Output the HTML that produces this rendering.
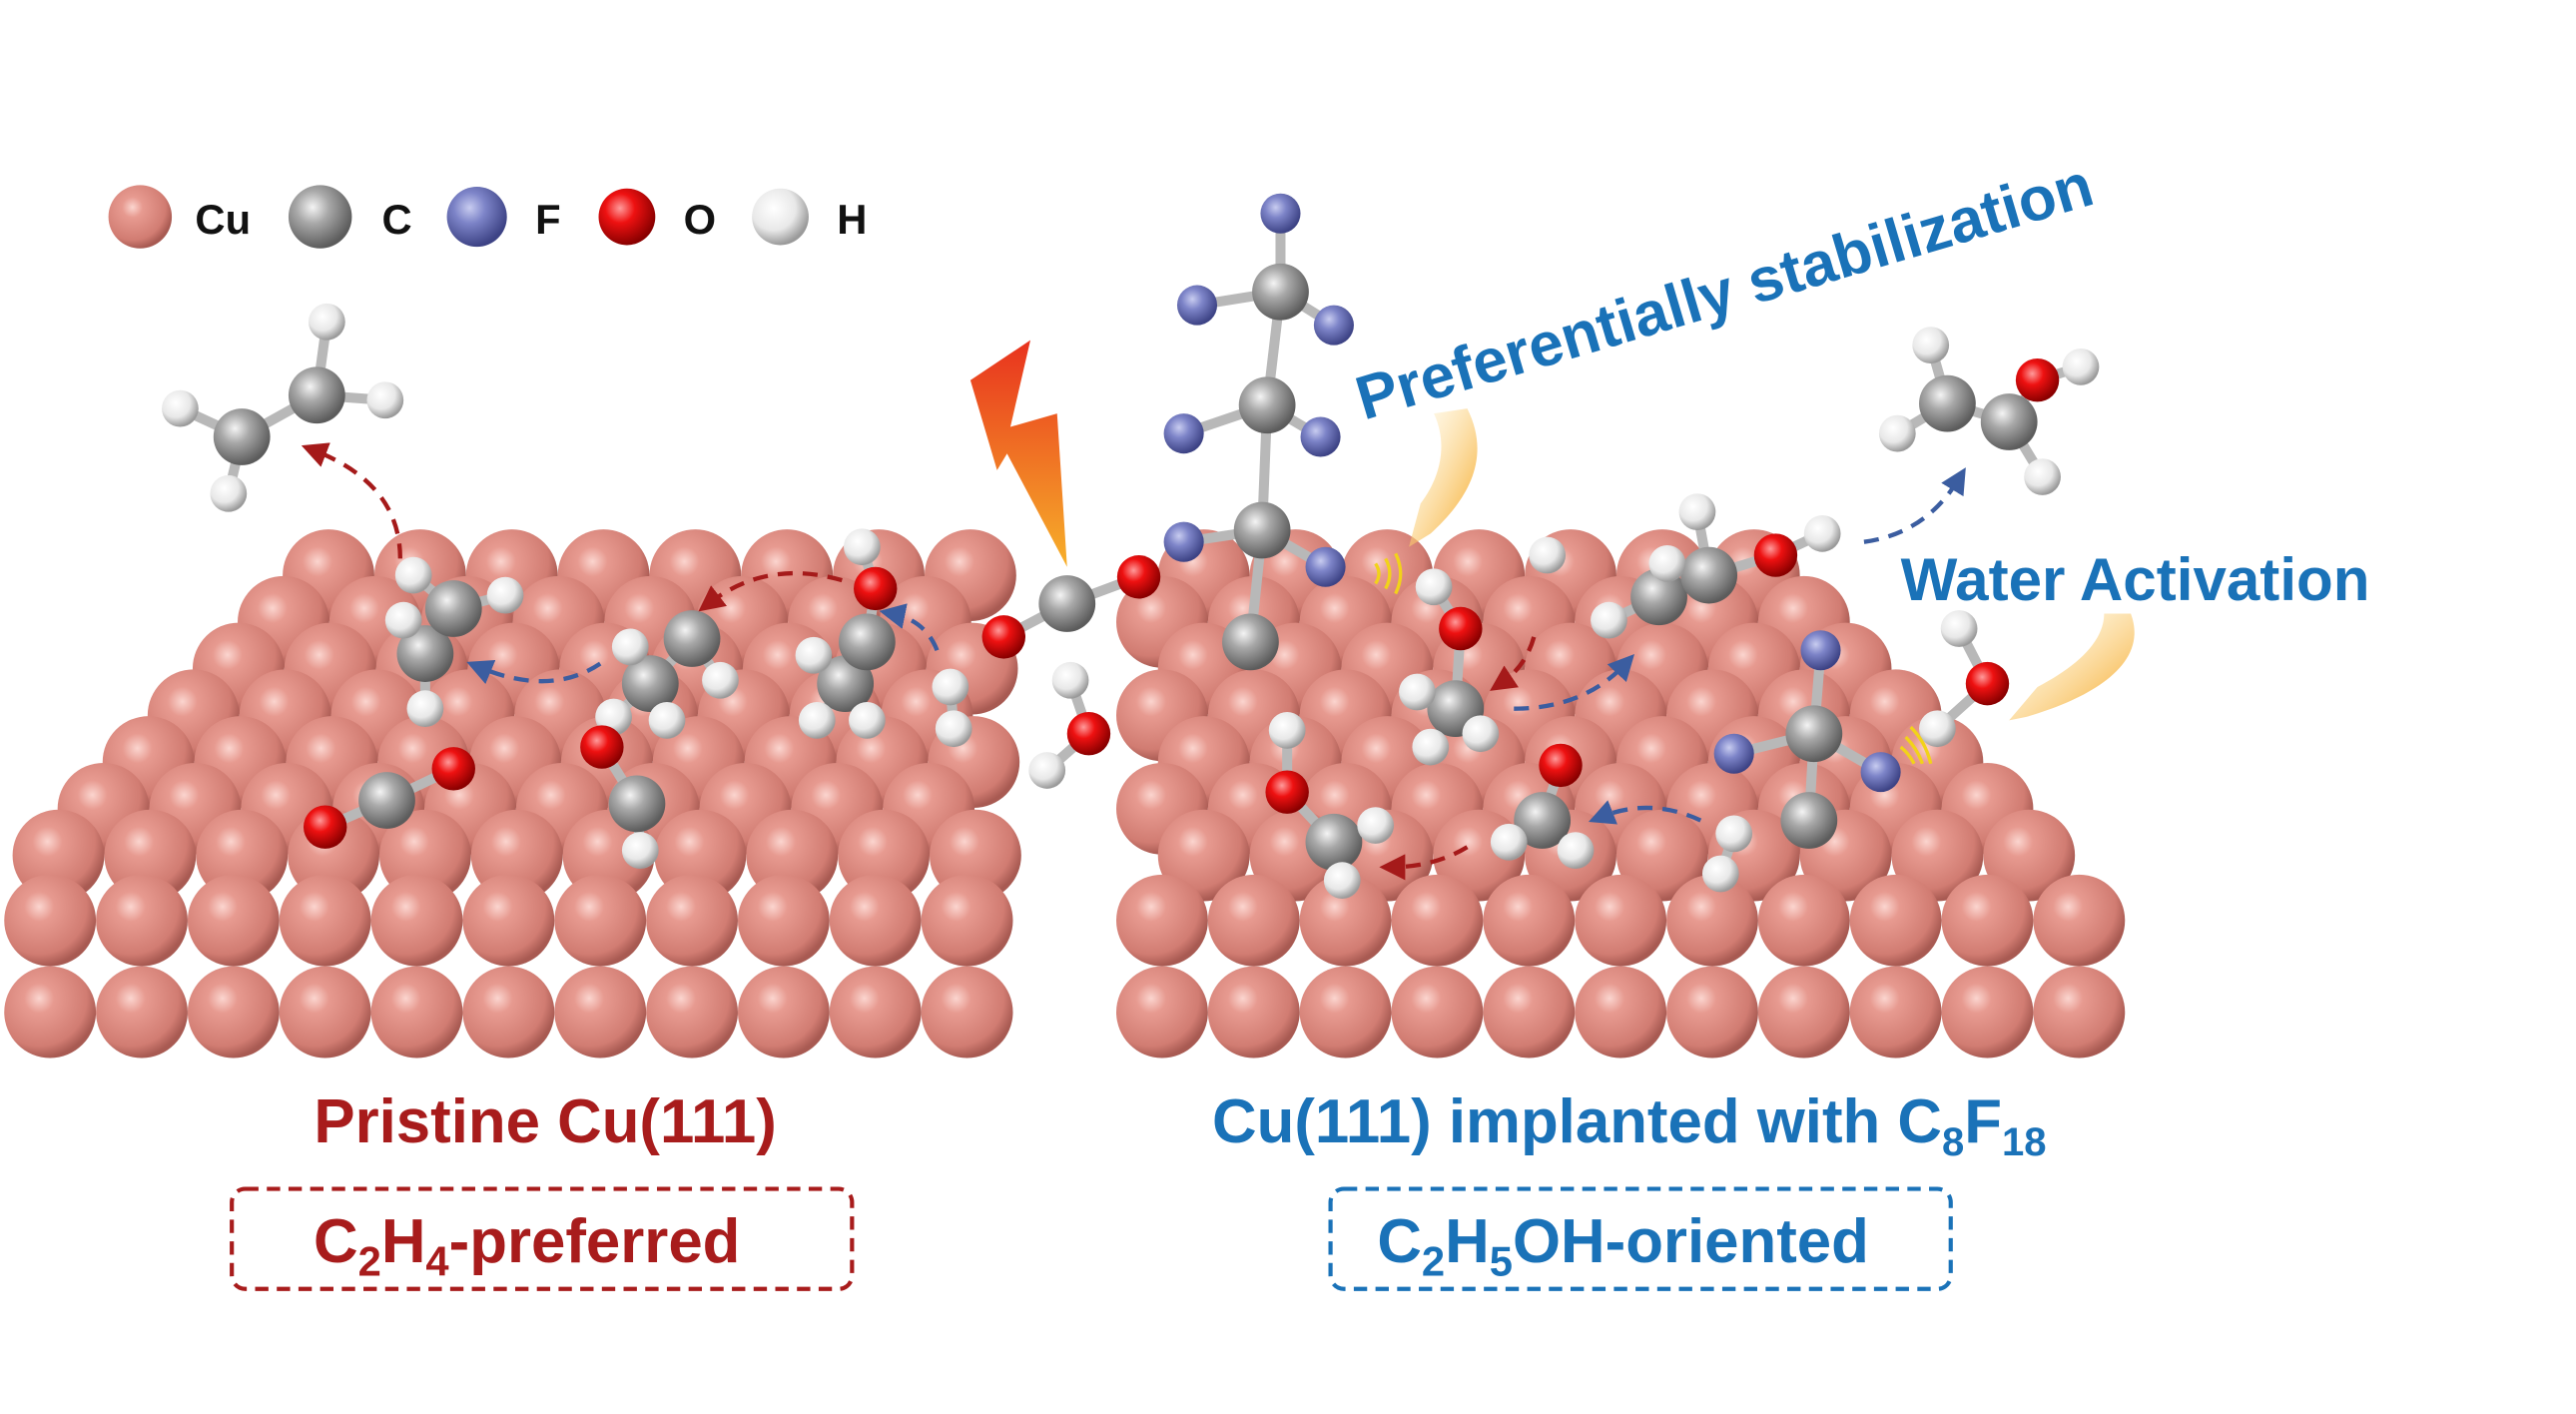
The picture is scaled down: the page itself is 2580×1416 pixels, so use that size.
<!DOCTYPE html>
<html><head><meta charset="utf-8">
<style>
html,body{margin:0;padding:0;background:#fff;}
svg{display:block;}
text{font-family:"Liberation Sans",Arial,sans-serif;font-weight:bold;}
</style></head>
<body>
<svg id="s" width="2580" height="1416" viewBox="0 0 1545 848" xmlns="http://www.w3.org/2000/svg">
<defs>
<radialGradient id="cu" cx="0.38" cy="0.35" r="0.65"><stop offset="0" stop-color="#fbd5cf"/><stop offset="0.25" stop-color="#e79a90"/><stop offset="0.8" stop-color="#d17c72"/><stop offset="1" stop-color="#a85a52"/></radialGradient>
<radialGradient id="gc" cx="0.38" cy="0.35" r="0.65"><stop offset="0" stop-color="#f4f4f4"/><stop offset="0.4" stop-color="#a8a8a8"/><stop offset="1" stop-color="#5c5c5c"/></radialGradient>
<radialGradient id="gf" cx="0.38" cy="0.35" r="0.65"><stop offset="0" stop-color="#c8ccf0"/><stop offset="0.4" stop-color="#7d84c8"/><stop offset="1" stop-color="#3d4385"/></radialGradient>
<radialGradient id="go" cx="0.38" cy="0.35" r="0.65"><stop offset="0" stop-color="#ff9a9a"/><stop offset="0.4" stop-color="#ee1111"/><stop offset="1" stop-color="#8a0000"/></radialGradient>
<radialGradient id="gh" cx="0.38" cy="0.35" r="0.65"><stop offset="0" stop-color="#ffffff"/><stop offset="0.6" stop-color="#e8e8e8"/><stop offset="1" stop-color="#9a9a9a"/></radialGradient>
<linearGradient id="bolt" x1="0" y1="0" x2="0" y2="1"><stop offset="0" stop-color="#e8321e"/><stop offset="1" stop-color="#f7b02a"/></linearGradient>
<linearGradient id="ya" x1="0" y1="0" x2="1" y2="1"><stop offset="0" stop-color="#fff3c8" stop-opacity="0.2"/><stop offset="1" stop-color="#f5a21a"/></linearGradient>
<marker id="mr" markerWidth="6" markerHeight="6" refX="3" refY="3" orient="auto" markerUnits="strokeWidth"><path d="M0,0 L6,3 L0,6 Z" fill="#a51a1a"/></marker>
<marker id="mb" markerWidth="6" markerHeight="6" refX="3" refY="3" orient="auto" markerUnits="strokeWidth"><path d="M0,0 L6,3 L0,6 Z" fill="#3b5da0"/></marker>
</defs>
<g id="slabs"></g>
<g id="mol"></g>
<g fill="none" stroke-width="2.6" stroke-dasharray="9,6">
<path d="M240 335 Q240 290 188 270" stroke="#a51a1a" marker-end="url(#mr)"/>
<path d="M505 348 Q460 335 425 362" stroke="#a51a1a" marker-end="url(#mr)"/>
<path d="M360 398 Q330 418 287 400" stroke="#3b5da0" marker-end="url(#mb)"/>
<path d="M562 390 Q555 372 535 368" stroke="#3b5da0" marker-end="url(#mb)"/>
<path d="M920 382 Q915 400 900 410" stroke="#a51a1a" marker-end="url(#mr)"/>
<path d="M908 425 Q950 425 975 398" stroke="#3b5da0" marker-end="url(#mb)"/>
<path d="M880 508 Q860 520 835 520" stroke="#a51a1a" marker-end="url(#mr)"/>
<path d="M1020 492 Q990 478 960 490" stroke="#3b5da0" marker-end="url(#mb)"/>
<path d="M1118 325 Q1155 320 1175 287" stroke="#3b5da0" marker-end="url(#mb)"/>
</g>
<polygon points="582,228 618,204 606,256 634,248 640,340 604,272 598,282" fill="url(#bolt)"/>
<path d="M880 245 C895 275 880 300 858 320 L845 328 L852 302 C865 285 868 265 860 248 Z" fill="url(#ya)"/>
<path d="M1278 368 C1290 400 1250 420 1215 430 L1205 432 L1222 412 C1245 400 1262 385 1262 368 Z" fill="url(#ya)"/>
<g fill="none" stroke="#f2d21a" stroke-width="2">
<path d="M825 338 q4 6 0 12"/><path d="M831 335 q5 9 0 18"/><path d="M837 332 q6 12 0 24"/>
<path d="M1140 448 q5 4 8 10"/><path d="M1143 442 q7 7 10 16"/><path d="M1146 436 q9 9 12 22"/>
</g>
<g id="leg"></g>
<text x="117" y="140" font-size="25" fill="#111">Cu</text>
<text x="229" y="140" font-size="25" fill="#111">C</text>
<text x="321" y="140" font-size="25" fill="#111">F</text>
<text x="410" y="140" font-size="25" fill="#111">O</text>
<text x="502" y="140" font-size="25" fill="#111">H</text>
<text x="818" y="252" font-size="37" fill="#1a72b8" transform="rotate(-16.5 818 252)">Preferentially stabilization</text>
<text x="1140" y="360" font-size="36" fill="#1a72b8">Water Activation</text>
<text x="327" y="685" font-size="37" fill="#a81c1c" text-anchor="middle">Pristine Cu(111)</text>
<text x="727" y="685" font-size="37" fill="#1a72b8">Cu(111) implanted with C<tspan font-size="24" dy="8">8</tspan><tspan dy="-8">F</tspan><tspan font-size="24" dy="8">18</tspan></text>
<rect x="139" y="713" width="372" height="60" rx="8" fill="none" stroke="#a81c1c" stroke-width="2.5" stroke-dasharray="8,5"/>
<rect x="798" y="713" width="372" height="60" rx="8" fill="none" stroke="#1a72b8" stroke-width="2.5" stroke-dasharray="8,5"/>
<text x="188" y="757" font-size="37" fill="#a81c1c">C<tspan font-size="25" dy="8">2</tspan><tspan dy="-8">H</tspan><tspan font-size="25" dy="8">4</tspan><tspan dy="-8">-preferred</tspan></text>
<text x="826" y="757" font-size="37" fill="#1a72b8">C<tspan font-size="25" dy="8">2</tspan><tspan dy="-8">H</tspan><tspan font-size="25" dy="8">5</tspan><tspan dy="-8">OH-oriented</tspan></text>
</svg>
<script>
var NS="http://www.w3.org/2000/svg";
function el(p,t,a){var e=document.createElementNS(NS,t);for(var k in a)e.setAttribute(k,a[k]);p.appendChild(e);return e;}
var S=document.getElementById('slabs');
var R=27.5;
var ys=[345,373,401,429,457,485,513];
for(var i=0;i<7;i++){var x0=197-27*i;for(var x=x0;x<=592;x+=55)el(S,'circle',{cx:x,cy:ys[i],r:R,fill:'url(#cu)'});}
[552,607].forEach(function(y){for(var x=30;x<=592;x+=55)el(S,'circle',{cx:x,cy:y,r:R,fill:'url(#cu)'});});
for(var i=0;i<7;i++){var x0=(i%2==0)?722:697;var xe=1075+28*i;for(var x=x0;x<=xe;x+=55)el(S,'circle',{cx:x,cy:ys[i],r:R,fill:'url(#cu)'});}
[552,607].forEach(function(y){for(var x=697;x<=1250;x+=55)el(S,'circle',{cx:x,cy:y,r:R,fill:'url(#cu)'});});
var M=document.getElementById('mol');
var T={C:['url(#gc)',17],F:['url(#gf)',12],O:['url(#go)',13],H:['url(#gh)',11]};
function b(x1,y1,x2,y2){el(M,'line',{x1:x1,y1:y1,x2:x2,y2:y2,stroke:'#b8b8b8','stroke-width':6,'stroke-linecap':'round'});}
function a(x,y,t,r){el(M,'circle',{cx:x,cy:y,r:r||T[t][1],fill:T[t][0]});}
function mol(atoms,bonds){bonds.forEach(function(q){b(atoms[q[0]][0],atoms[q[0]][1],atoms[q[1]][0],atoms[q[1]][1]);});atoms.forEach(function(p){a(p[0],p[1],p[2]);});}
var L=document.getElementById('leg');
[[84,'cu',19],[192,'gc',19],[286,'gf',18],[376,'go',17],[468,'gh',17]].forEach(function(q){el(L,'circle',{cx:q[0],cy:130,r:q[2],fill:'url(#'+q[1]+')'});});
mol([[145,262,'C'],[190,237,'C'],[108,245,'H'],[137,296,'H'],[196,193,'H'],[231,240,'H']],[[0,1],[0,2],[0,3],[1,4],[1,5]]);
mol([[255,392,'C'],[272,365,'C'],[248,345,'H'],[303,357,'H'],[242,372,'H'],[255,425,'H']],[[0,1],[1,2],[1,3],[0,4],[0,5]]);
mol([[390,410,'C'],[415,383,'C'],[378,388,'H'],[368,430,'H'],[400,432,'H'],[432,408,'H']],[[0,1],[0,2],[0,3],[0,4],[1,5]]);
mol([[507,410,'C'],[520,385,'C'],[525,353,'O'],[517,328,'H'],[488,393,'H'],[490,432,'H'],[520,432,'H']],[[0,1],[1,2],[2,3],[0,4],[0,5],[0,6]]);
mol([[570,412,'H'],[572,437,'H']],[[0,1]]);
mol([[195,496,'O'],[232,480,'C'],[272,461,'O']],[[0,1],[1,2]]);
mol([[382,482,'C'],[361,448,'O'],[384,510,'H']],[[0,1],[0,2]]);
mol([[602,382,'O'],[640,362,'C'],[683,346,'O']],[[0,1],[1,2]]);
mol([[653,440,'O'],[642,408,'H'],[628,462,'H']],[[0,1],[0,2]]);
mol([[768,175,'C'],[760,243,'C'],[757,318,'C'],[750,385,'C'],[768,128,'F'],[718,183,'F'],[800,195,'F'],[710,260,'F'],[792,262,'F'],[710,325,'F'],[795,340,'F']],[[0,1],[1,2],[2,3],[0,4],[0,5],[0,6],[1,7],[1,8],[2,9],[2,10]]);
mol([[873,425,'C'],[876,377,'O'],[860,352,'H'],[850,415,'H'],[858,448,'H'],[888,440,'H'],[928,333,'H']],[[0,1],[1,2],[0,3],[0,4],[0,5]]);
mol([[995,358,'C'],[1025,345,'C'],[1065,333,'O'],[1093,320,'H'],[1018,307,'H'],[965,372,'H'],[1000,338,'H']],[[0,1],[1,2],[2,3],[1,4],[0,5],[0,6]]);
mol([[800,505,'C'],[772,475,'O'],[772,438,'H'],[805,528,'H'],[825,495,'H']],[[0,1],[1,2],[0,3],[0,4]]);
mol([[925,492,'C'],[936,459,'O'],[905,505,'H'],[945,510,'H']],[[0,1],[0,2],[0,3]]);
mol([[1040,500,'H'],[1032,524,'H']],[[0,1]]);
mol([[1088,440,'C'],[1092,390,'F'],[1040,452,'F'],[1128,463,'F'],[1085,492,'C']],[[0,1],[0,2],[0,3],[0,4]]);
mol([[1192,410,'O'],[1175,377,'H'],[1162,437,'H']],[[0,1],[0,2]]);
mol([[1168,242,'C'],[1205,253,'C'],[1222,228,'O'],[1158,207,'H'],[1138,260,'H'],[1248,220,'H'],[1225,286,'H']],[[0,1],[1,2],[0,3],[0,4],[2,5],[1,6]]);
</script>
</body></html>
